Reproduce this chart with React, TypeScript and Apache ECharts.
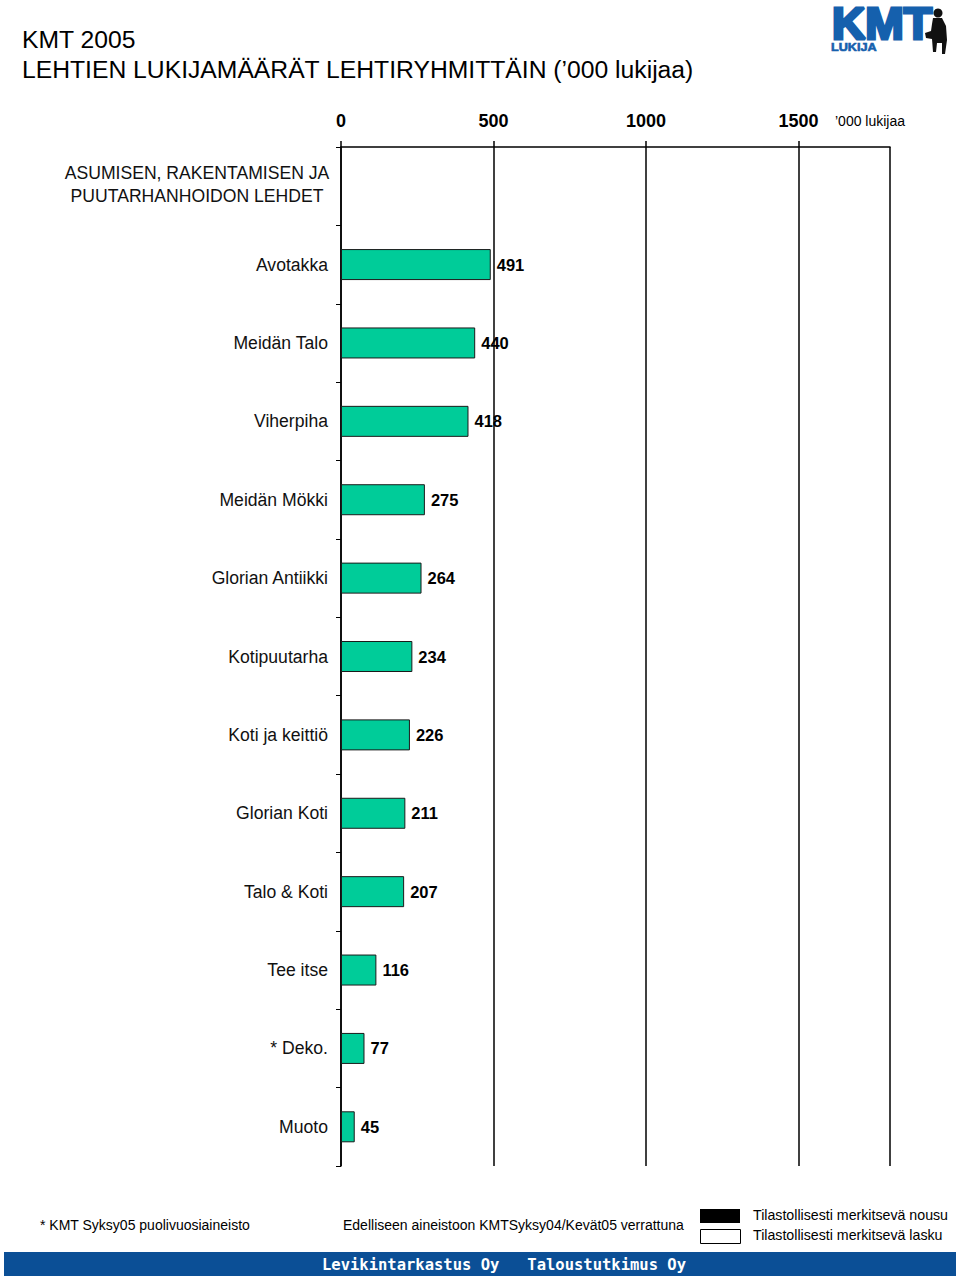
import React, { useEffect, useRef } from "react";
import * as echarts from "echarts";

const titleLines = ["KMT 2005", "LEHTIEN LUKIJAMÄÄRÄT LEHTIRYHMITTÄIN (’000 lukijaa)"];
const groupHeader = "ASUMISEN, RAKENTAMISEN JA\nPUUTARHANHOIDON LEHDET";
const categories = [
  groupHeader,
  "Avotakka",
  "Meidän Talo",
  "Viherpiha",
  "Meidän Mökki",
  "Glorian Antiikki",
  "Kotipuutarha",
  "Koti ja keittiö",
  "Glorian Koti",
  "Talo & Koti",
  "Tee itse",
  "* Deko.",
  "Muoto",
];
const readers: (number | null)[] = [null, 491, 440, 418, 275, 264, 234, 226, 211, 207, 116, 77, 45];
const axisUnit = "’000 lukijaa";
const footNote = "* KMT Syksy05 puolivuosiaineisto";
const compareNote = "Edelliseen aineistoon KMTSyksy04/Kevät05 verrattuna";
const legendUp = "Tilastollisesti merkitsevä nousu";
const legendDown = "Tilastollisesti merkitsevä lasku";
const bannerText = "Levikintarkastus Oy   Taloustutkimus Oy";

const FONT = "'Liberation Sans', Arial, Helvetica, sans-serif";

export default function App() {
  const ref = useRef<HTMLDivElement>(null);
  useEffect(() => {
    if (!ref.current) return;
    const chart = echarts.init(ref.current, null, { renderer: "svg" });
    chart.setOption({
      animation: false,
      backgroundColor: "#ffffff",
      grid: { left: 341, right: 70, top: 147, bottom: 114, containLabel: false },
      xAxis: {
        type: "value",
        position: "top",
        min: 0,
        max: 1800,
        interval: 500,
        axisLine: { show: true, lineStyle: { color: "#000", width: 1.5 } },
        axisTick: { show: true, length: 6, lineStyle: { color: "#000", width: 1.5 } },
        splitLine: { show: true, lineStyle: { color: "#000", width: 1.5 } },
        axisLabel: {
          showMaxLabel: false,
          margin: 17,
          color: "#000",
          fontFamily: FONT,
          fontSize: 18,
          fontWeight: "bold",
          formatter: (v: number) => String(v),
        },
      },
      yAxis: {
        type: "category",
        inverse: true,
        data: categories,
        axisLine: { show: true, lineStyle: { color: "#000", width: 1.5 } },
        axisTick: { show: true, length: 5, alignWithLabel: false, lineStyle: { color: "#000", width: 1 } },
        splitLine: { show: false },
        axisLabel: {
          margin: 13,
          color: "#111",
          fontFamily: FONT,
          fontSize: 17.6,
          formatter: (v: string) => (v === groupHeader ? "" : v),
        },
      },
      series: [
        {
          type: "bar",
          data: readers,
          barWidth: 31,
          itemStyle: { color: "#00CC99", borderColor: "#1a1a1a", borderWidth: 1 },
          label: {
            show: true,
            position: "right",
            distance: 6,
            color: "#000",
            fontFamily: FONT,
            fontSize: 16.5,
            fontWeight: "bold",
          },
        },
      ],
      graphic: [
        { type: "text", left: 22, top: 27, style: { text: titleLines[0], font: `24.7px ${FONT}`, fill: "#000" } },
        { type: "text", left: 22, top: 57, style: { text: titleLines[1], font: `24.7px ${FONT}`, fill: "#000" } },
        {
          type: "text",
          x: 197,
          y: 184,
          style: {
            text: groupHeader,
            font: `17.6px ${FONT}`,
            fill: "#111",
            align: "center",
            verticalAlign: "middle",
            lineHeight: 23,
          },
        },
        {
          type: "text",
          x: 835,
          y: 121,
          style: { text: axisUnit, font: `14px ${FONT}`, fill: "#000", verticalAlign: "middle" },
        },
        // logo
        {
          type: "text",
          x: 832,
          y: 24,
          scaleX: 1.05,
          style: {
            text: "KMT",
            font: `bold 44px ${FONT}`,
            fill: "#1560ad",
            stroke: "#1560ad",
            lineWidth: 3,
            verticalAlign: "middle",
          },
        },
        {
          type: "text",
          x: 831,
          y: 47,
          scaleX: 1.15,
          style: {
            text: "LUKIJA",
            font: `bold 11px ${FONT}`,
            fill: "#1560ad",
            stroke: "#1560ad",
            lineWidth: 0.6,
            verticalAlign: "middle",
          },
        },
        { type: "circle", shape: { cx: 938, cy: 13, r: 4.5 }, style: { fill: "#111" } },
        {
          type: "polygon",
          shape: {
            points: [
              [933, 18], [942, 18], [946, 26], [947, 40], [945, 54], [942, 54],
              [942, 43], [937, 43], [936, 52], [933, 52], [932, 39], [926, 38], [925, 33], [931, 31], [932, 24],
            ],
          },
          style: { fill: "#111" },
        },
        // footer
        {
          type: "text",
          x: 40,
          y: 1225,
          style: { text: footNote, font: `14px ${FONT}`, fill: "#000", verticalAlign: "middle" },
        },
        {
          type: "text",
          x: 343,
          y: 1225,
          style: { text: compareNote, font: `14px ${FONT}`, fill: "#000", verticalAlign: "middle" },
        },
        { type: "rect", shape: { x: 700, y: 1209, width: 40, height: 14 }, style: { fill: "#000" } },
        {
          type: "rect",
          shape: { x: 700.5, y: 1229.5, width: 40, height: 14 },
          style: { fill: "#fff", stroke: "#000", lineWidth: 1 },
        },
        {
          type: "text",
          x: 753,
          y: 1215,
          style: { text: legendUp, font: `14.2px ${FONT}`, fill: "#000", verticalAlign: "middle" },
        },
        {
          type: "text",
          x: 753,
          y: 1235,
          style: { text: legendDown, font: `14.2px ${FONT}`, fill: "#000", verticalAlign: "middle" },
        },
        { type: "rect", shape: { x: 4, y: 1252, width: 952, height: 24 }, style: { fill: "#0b4f96" } },
        {
          type: "text",
          x: 504,
          y: 1265,
          style: {
            text: bannerText,
            font: `bold 15.5px 'DejaVu Sans Mono', 'Liberation Mono', monospace`,
            fill: "#fff",
            align: "center",
            verticalAlign: "middle",
          },
        },
      ],
    });
    return () => chart.dispose();
  }, []);
  return <div ref={ref} style={{ position: "absolute", left: 0, top: 0, width: 960, height: 1280 }} />;
}
